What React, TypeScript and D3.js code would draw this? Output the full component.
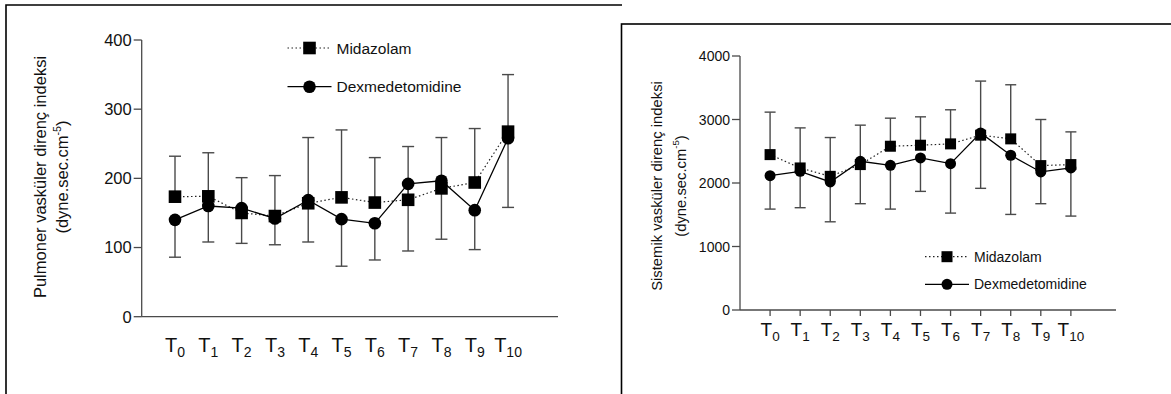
import React from "react";
import * as d3 from "d3";

const categories = ["0", "1", "2", "3", "4", "5", "6", "7", "8", "9", "10"];

// Pulmonary vascular resistance index
const pvriMidazolam = [173.5, 174, 150, 145.5, 164, 172.5, 165, 169, 185.5, 194, 267.5];
const pvriMidazolamUpper = [232, 237, 201, 204, 259, 270, 230, 246, 259, 272, 350];
const pvriDex = [140, 160, 157, 142, 168.5, 141, 135, 192, 196.5, 154, 258];
const pvriDexLower = [86, 108, 106, 104, 108, 73, 82, 95, 112, 97, 158];
const pvriTicks = [0, 100, 200, 300, 400];

// Systemic vascular resistance index
const svriMidazolam = [2447, 2237, 2105, 2290, 2579, 2595, 2616, 2753, 2695, 2274, 2290];
const svriMidazolamUpper = [3116, 2868, 2716, 2911, 3021, 3042, 3153, 3605, 3547, 3000, 2805];
const svriDex = [2116, 2184, 2016, 2342, 2279, 2395, 2305, 2789, 2437, 2174, 2237];
const svriDexLower = [1589, 1611, 1389, 1674, 1589, 1868, 1526, 1916, 1505, 1674, 1479];
const svriTicks = [0, 1000, 2000, 3000, 4000];

const FONT = "'Liberation Sans', Arial, sans-serif";
const AXIS = "#4a4a4a";

type PanelProps = {
  x0: number; x1: number; y0: number; y1: number; yMax: number;
  mid: number[]; midUp: number[]; dex: number[]; dexLo: number[]; ticks: number[];
  tickFont: number; tLabelFont: number; subFont: number; tBase: number; xTicks: boolean;
  markerHalf: number; capHalf: number;
  title1: string; titleFont: number; titleX1: number; titleX2: number; titleY: number;
  legX: number; legY1: number; legY2: number; legFont: number;
};

function Panel(p: PanelProps) {
  const x = d3.scaleLinear().domain([-1, 11.5]).range([p.x0, p.x1]);
  const y = d3.scaleLinear().domain([0, p.yMax]).range([p.y0, p.y1]);
  const idx = categories.map((_, i) => i);
  const midLine = d3.line<number>().x((i) => x(i)).y((i) => y(p.mid[i]))(idx) || "";
  const dexLine = d3.line<number>().x((i) => x(i)).y((i) => y(p.dex[i]))(idx) || "";
  const h = p.markerHalf;
  const c = p.capHalf;
  return (
    <g fontFamily={FONT}>
      {/* axes */}
      <line x1={x(-1)} x2={x(-1)} y1={y(0)} y2={y(p.yMax)} stroke={AXIS} strokeWidth={1.3} />
      <line x1={x(-1)} x2={x(11.5)} y1={y(0)} y2={y(0)} stroke={AXIS} strokeWidth={1.3} />
      {p.ticks.map((t) => (
        <g key={t}>
          <line x1={x(-1) - 8} x2={x(-1)} y1={y(t)} y2={y(t)} stroke={AXIS} strokeWidth={1.3} />
          <text x={x(-1) - 10} y={y(t)} dy="0.36em" textAnchor="end" fontSize={p.tickFont} fill="#111">
            {t}
          </text>
        </g>
      ))}
      {idx.map((i) => (
        <g key={i}>
          {p.xTicks && (
            <line x1={x(i)} x2={x(i)} y1={y(0)} y2={y(0) + 6} stroke={AXIS} strokeWidth={1.3} />
          )}
          <text x={x(i)} y={p.tBase} textAnchor="middle" fontSize={p.tLabelFont} fill="#111">
            T<tspan fontSize={p.subFont} dy={5}>{categories[i]}</tspan>
          </text>
        </g>
      ))}
      {/* y title */}
      <g transform={`translate(${p.titleX1},${p.titleY}) rotate(-90)`}>
        <text textAnchor="middle" fontSize={p.titleFont} fill="#111">{p.title1}</text>
      </g>
      <g transform={`translate(${p.titleX2},${p.titleY}) rotate(-90)`}>
        <text textAnchor="middle" fontSize={p.titleFont} fill="#111">
          (dyne.sec.cm<tspan fontSize={p.titleFont * 0.65} dy={-p.titleFont * 0.45}>-5</tspan>
          <tspan dy={p.titleFont * 0.45}>)</tspan>
        </text>
      </g>
      {/* error bars */}
      {idx.map((i) => (
        <g key={"e" + i} stroke={AXIS} strokeWidth={1.4}>
          <line x1={x(i)} x2={x(i)} y1={y(p.mid[i])} y2={y(p.midUp[i])} />
          <line x1={x(i) - c} x2={x(i) + c} y1={y(p.midUp[i])} y2={y(p.midUp[i])} />
          <line x1={x(i)} x2={x(i)} y1={y(p.dex[i])} y2={y(p.dexLo[i])} />
          <line x1={x(i) - c} x2={x(i) + c} y1={y(p.dexLo[i])} y2={y(p.dexLo[i])} />
        </g>
      ))}
      {/* lines */}
      <path d={midLine} fill="none" stroke="#222" strokeWidth={1.2} strokeDasharray="1.5,2.5" />
      <path d={dexLine} fill="none" stroke="#000" strokeWidth={1.3} />
      {/* markers */}
      {idx.map((i) => (
        <rect key={"m" + i} x={x(i) - h} y={y(p.mid[i]) - h} width={2 * h} height={2 * h} fill="#000" />
      ))}
      {idx.map((i) => (
        <circle key={"d" + i} cx={x(i)} cy={y(p.dex[i])} r={h} fill="#000" />
      ))}
      {/* legend */}
      <line x1={p.legX - 22} x2={p.legX + 22} y1={p.legY1} y2={p.legY1} stroke="#222" strokeWidth={1.2} strokeDasharray="1.5,2.5" />
      <rect x={p.legX - h} y={p.legY1 - h} width={2 * h} height={2 * h} fill="#000" />
      <text x={p.legX + 27} y={p.legY1} dy="0.36em" fontSize={p.legFont} fill="#111">Midazolam</text>
      <line x1={p.legX - 22} x2={p.legX + 22} y1={p.legY2} y2={p.legY2} stroke="#000" strokeWidth={1.3} />
      <circle cx={p.legX} cy={p.legY2} r={h} fill="#000" />
      <text x={p.legX + 27} y={p.legY2} dy="0.36em" fontSize={p.legFont} fill="#111">Dexmedetomidine</text>
    </g>
  );
}

export default function App() {
  return (
    <svg width={1171} height={394} style={{ position: "absolute", left: 0, top: 0, background: "#fff" }}>
      <rect x={0} y={0} width={1171} height={394} fill="#fff" />
      {/* panel frames */}
      <path d="M6,400 L6,5 L622,5" fill="none" stroke="#000" strokeWidth={1.6} />
      <Panel
        x0={141.7} x1={558} y0={316.7} y1={40} yMax={400}
        mid={pvriMidazolam} midUp={pvriMidazolamUpper} dex={pvriDex} dexLo={pvriDexLower}
        ticks={pvriTicks} tickFont={16.5} tLabelFont={20} subFont={14} tBase={352} xTicks={false}
        markerHalf={6.3} capHalf={6}
        title1="Pulmoner vasküler direnç indeksi" titleFont={16.5} titleX1={45.5} titleX2={68} titleY={177}
        legX={309.5} legY1={48} legY2={86.7} legFont={15.5}
      />
      <rect x={621.5} y={24} width={560} height={380} fill="#fff" stroke="#000" strokeWidth={1.6} />
      <Panel
        x0={740} x1={1116} y0={310} y1={56} yMax={4000}
        mid={svriMidazolam} midUp={svriMidazolamUpper} dex={svriDex} dexLo={svriDexLower}
        ticks={svriTicks} tickFont={14} tLabelFont={19} subFont={13.5} tBase={336} xTicks={true}
        markerHalf={5.5} capHalf={5.5}
        title1="Sistemik vasküler direnç indeksi" titleFont={14.8} titleX1={662} titleX2={686} titleY={186}
        legX={947} legY1={256.7} legY2={284.3} legFont={14}
      />
    </svg>
  );
}
